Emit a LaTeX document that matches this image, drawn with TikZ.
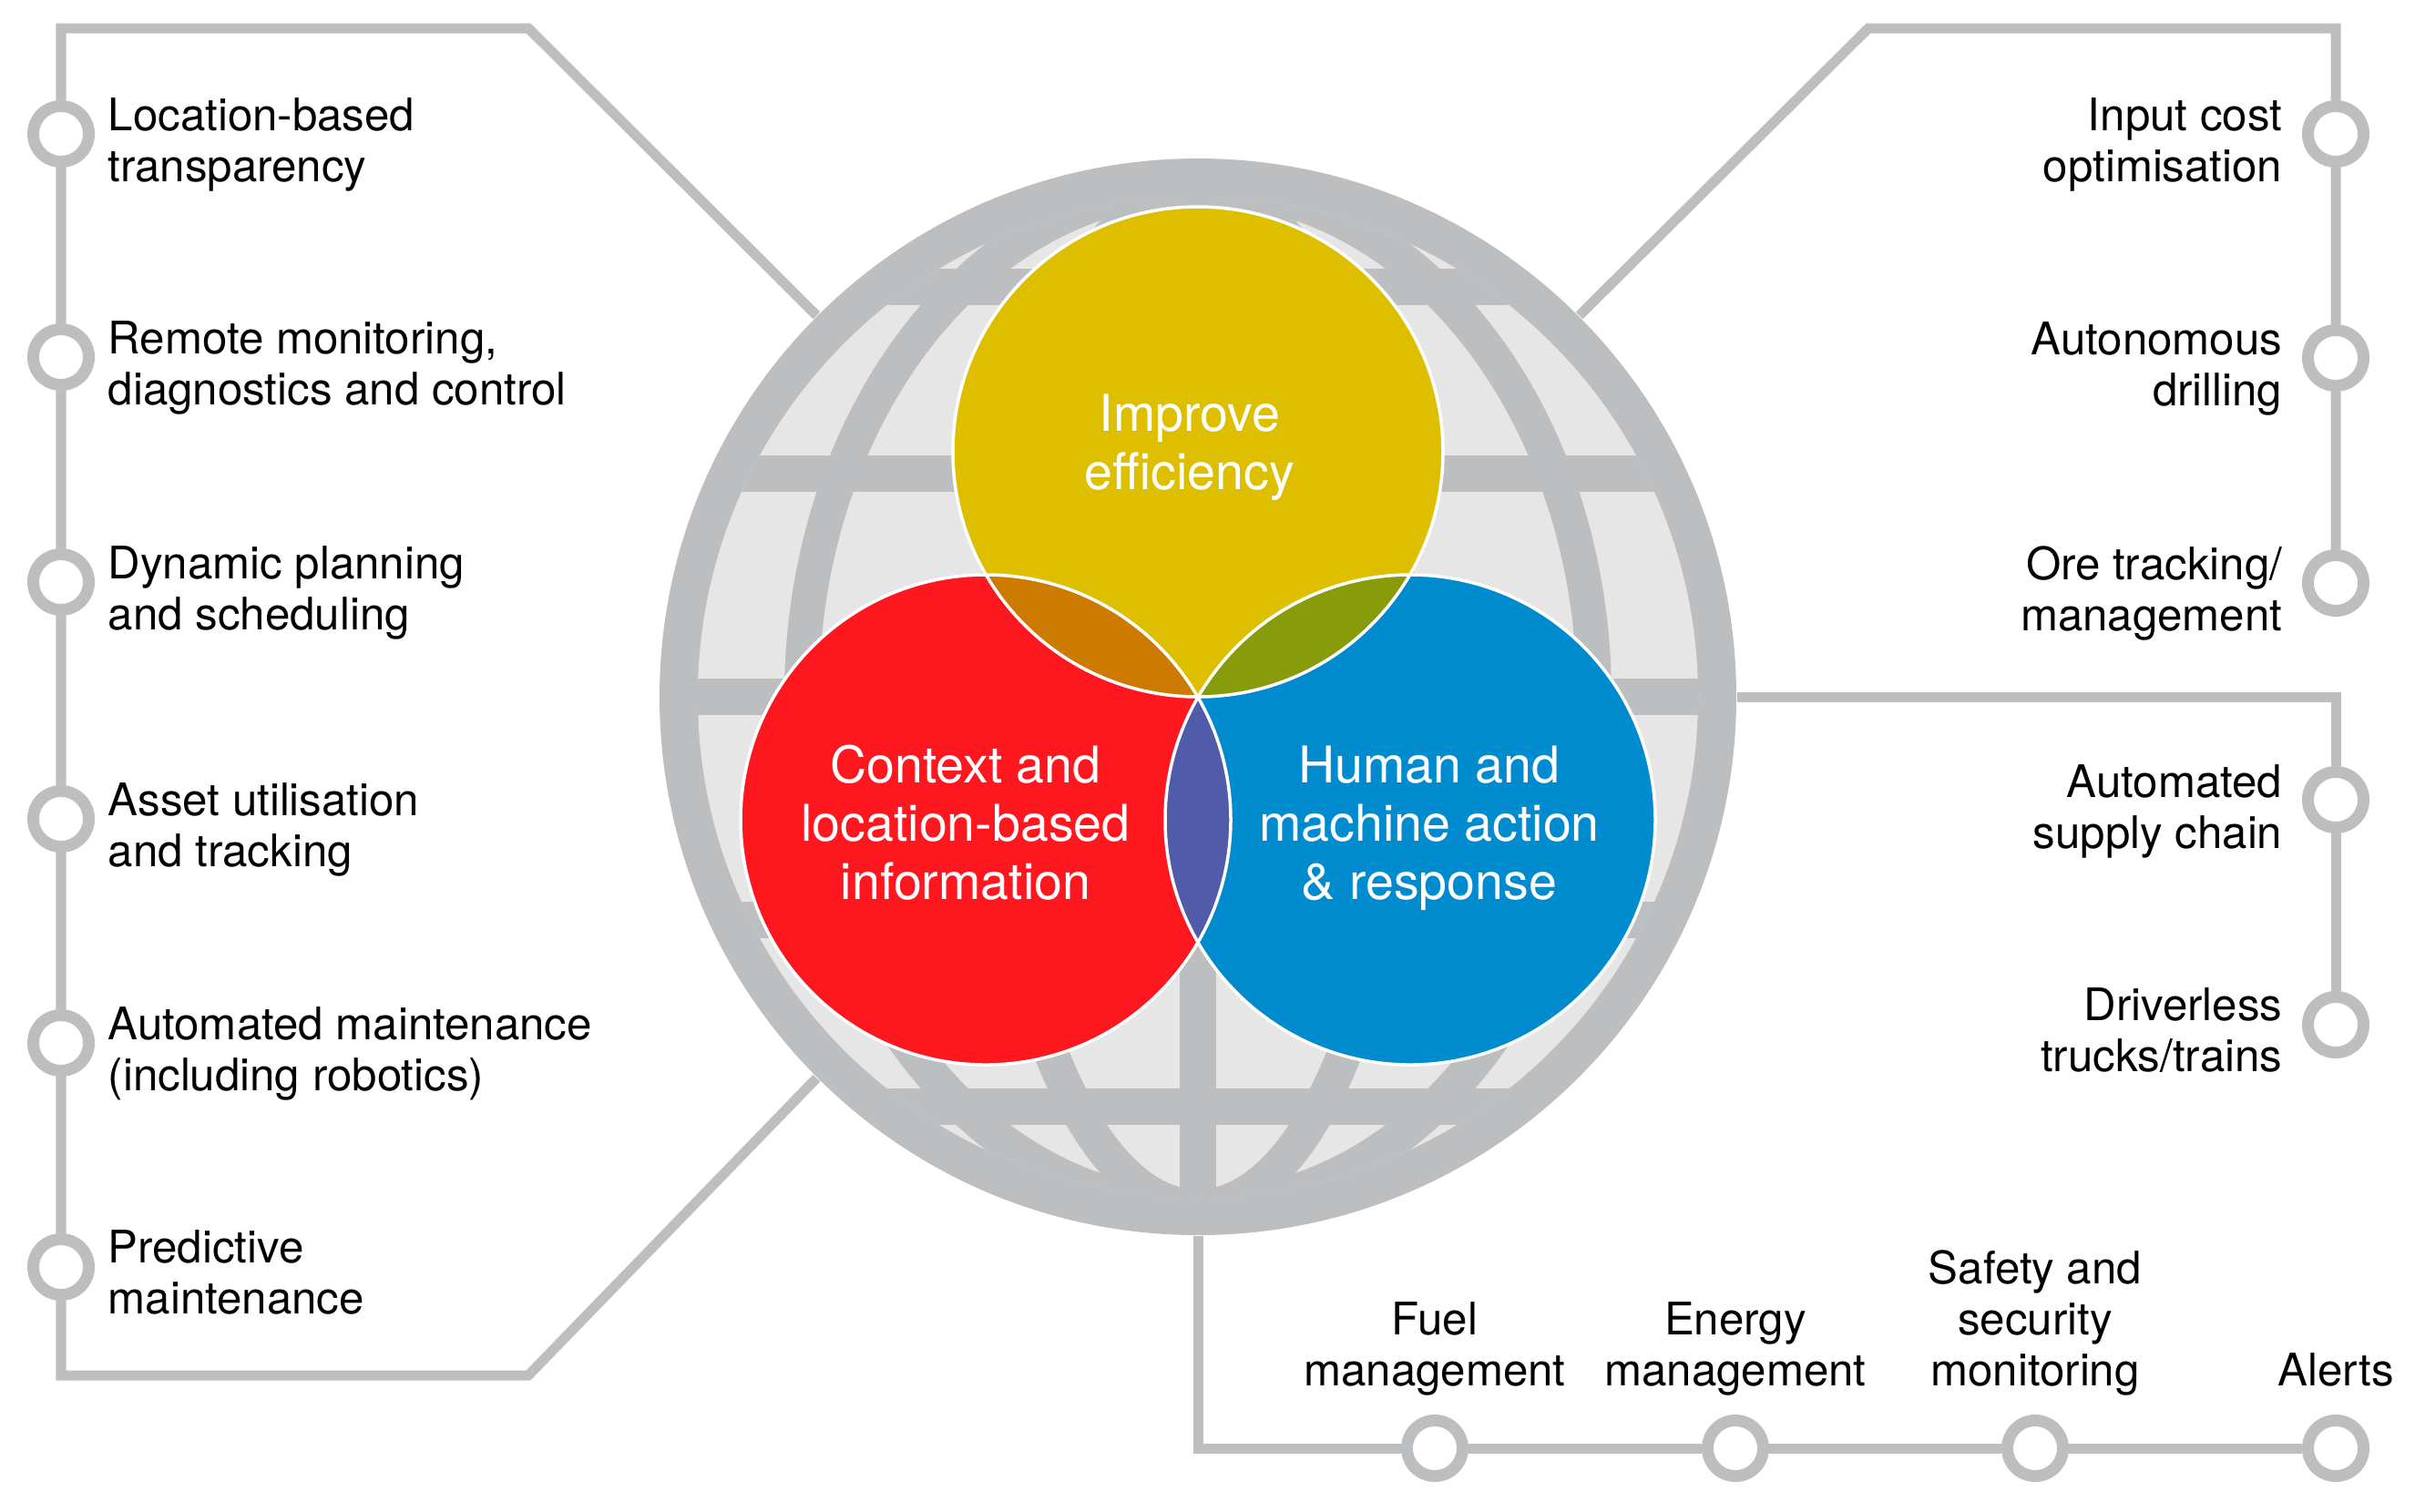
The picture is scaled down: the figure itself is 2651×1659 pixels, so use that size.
\documentclass[tikz,border=0pt]{standalone}
\usepackage{fontspec}
\setmainfont{TeX Gyre Heros}
\usepackage{tikz}
\usetikzlibrary{positioning, calc}

\definecolor{globegray}{RGB}{188,190,192}
\definecolor{globefill}{RGB}{230,230,231}
\definecolor{effyellow}{RGB}{222,191,0}
\definecolor{ctxred}{RGB}{255,23,32}
\definecolor{actblue}{RGB}{0,139,206}
\definecolor{mixorange}{RGB}{204,122,0}
\definecolor{mixolive}{RGB}{136,155,10}
\definecolor{mixpurple}{RGB}{80,92,170}

\begin{document}
\begin{tikzpicture}[x=0.01cm, y=-0.01cm,
    track/.style={draw=globegray, line width=1.1mm},
    stopdot/.style={circle, draw=globegray, line width=1.3mm, fill=white, inner sep=0pt, minimum size=6.1mm},
    lefttext/.style={anchor=base west, align=left, inner sep=0pt, font=\fontsize{14pt}{15.9pt}\selectfont},
    righttext/.style={anchor=base east, align=right, inner sep=0pt, font=\fontsize{14pt}{15.9pt}\selectfont},
    bottomtext/.style={anchor=base, align=center, inner sep=0pt, font=\fontsize{14pt}{15.9pt}\selectfont},
    venntext/.style={anchor=base, align=center, inner sep=0pt, text=white, font=\fontsize{15.8pt}{18.2pt}\selectfont},
    meridian/.style={draw=globegray, line width=3.8mm}]

    \useasboundingbox (0,0) rectangle (2651,1659);

    % Globe outline and corners of the tracks
    \node[circle, inner sep=0pt, minimum size=11.82cm] (globe) at (1315,765) {};
    \coordinate (lt) at (580,31);
    \coordinate (lb) at (580,1510);
    \coordinate (rt) at (2051,31);

    % Stops on the left
    \node[stopdot] (l1) at (67,147) {};
    \node[stopdot] (l2) at (67,392) {};
    \node[stopdot] (l3) at (67,639) {};
    \node[stopdot] (l4) at (67,899) {};
    \node[stopdot] (l5) at (67,1145) {};
    \node[stopdot] (l6) at (67,1391) {};

    % Stops on the right
    \node[stopdot] (r1) at (2564,147) {};
    \node[stopdot] (r2) at (2564,393) {};
    \node[stopdot] (r3) at (2564,640) {};
    \node[stopdot] (r4) at (2564,878) {};
    \node[stopdot] (r5) at (2564,1125) {};

    % Stops at the bottom
    \node[stopdot] (b1) at (1575,1590) {};
    \node[stopdot] (b2) at (1905,1590) {};
    \node[stopdot] (b3) at (2234,1590) {};
    \node[stopdot] (b4) at (2564,1590) {};

    % Tracks
    \draw[track] (globe.135) -- (lt) -| (l1) -- (l2) -- (l3) -- (l4) -- (l5) -- (l6) |- (lb) -- (globe.225);
    \draw[track] (globe.45) -- (rt) -| (r1) -- (r2) -- (r3);
    \draw[track] (globe.east) -| (r4) -- (r5);
    \draw[track] (globe.south) |- (b1) -- (b2) -- (b3) -- (b4);

    % Globe
    \fill[globegray] (globe.center) circle[radius=591];
    \fill[globefill] (globe.center) circle[radius=549];
    \begin{scope}
        \clip (globe.center) circle[radius=549];
        \foreach \y in {315,520,765,1010,1215}
            \draw[meridian, line width=4mm] (700,\y) -- (1930,\y);
        \draw[meridian, line width=4mm] (1315,150) -- (1315,1400);
        \foreach \a in {225,435}
            \draw[meridian] (globe.center) ellipse[x radius=\a, y radius=560];
    \end{scope}

    % Venn circles
    \coordinate (cy) at (1315,496);
    \coordinate (cr) at (1082,900);
    \coordinate (cb) at (1548,900);
    \fill[effyellow] (cy) circle[radius=269];
    \fill[ctxred] (cr) circle[radius=269];
    \fill[actblue] (cb) circle[radius=269];
    \begin{scope}
        \clip (cy) circle[radius=269];
        \fill[mixorange] (cr) circle[radius=269];
        \fill[mixolive] (cb) circle[radius=269];
    \end{scope}
    \begin{scope}
        \clip (cr) circle[radius=269];
        \fill[mixpurple] (cb) circle[radius=269];
    \end{scope}
    \foreach \c in {cy,cr,cb}
        \draw[white, line width=0.35mm] (\c) circle[radius=269];

    \node[venntext] (eff) at (1306,537) {Improve\\efficiency};
    \node[venntext] (ctx) at (1060,987) {Context and\\location-based\\information};
    \node[venntext] (act) at (1569,987) {Human and\\machine action\\\& response};

    % Labels on the left
    \node[lefttext] (tl1) at (118,199) {Location-based\\transparency};
    \node[lefttext] (tl2) at (118,444) {Remote monitoring,\\diagnostics and control};
    \node[lefttext] (tl3) at (118,691) {Dynamic planning\\and scheduling};
    \node[lefttext] (tl4) at (118,951) {Asset utilisation\\and tracking};
    \node[lefttext] (tl5) at (118,1197) {Automated maintenance\\(including robotics)};
    \node[lefttext] (tl6) at (118,1442) {Predictive\\maintenance};

    % Labels on the right
    \node[righttext] (tr1) at (2506,199) {Input cost\\optimisation};
    \node[righttext] (tr2) at (2506,445) {Autonomous\\drilling};
    \node[righttext] (tr3) at (2506,692) {Ore tracking/\\management};
    \node[righttext] (tr4) at (2506,931) {Automated\\supply chain};
    \node[righttext] (tr5) at (2506,1176) {Driverless\\trucks/trains};

    % Labels at the bottom
    \node[bottomtext] (tb1) at (1575,1521) {Fuel\\management};
    \node[bottomtext] (tb2) at (1905,1521) {Energy\\management};
    \node[bottomtext] (tb3) at (2234,1521) {Safety and\\security\\monitoring};
    \node[bottomtext] (tb4) at (2564,1521) {Alerts};
\end{tikzpicture}
\end{document}
